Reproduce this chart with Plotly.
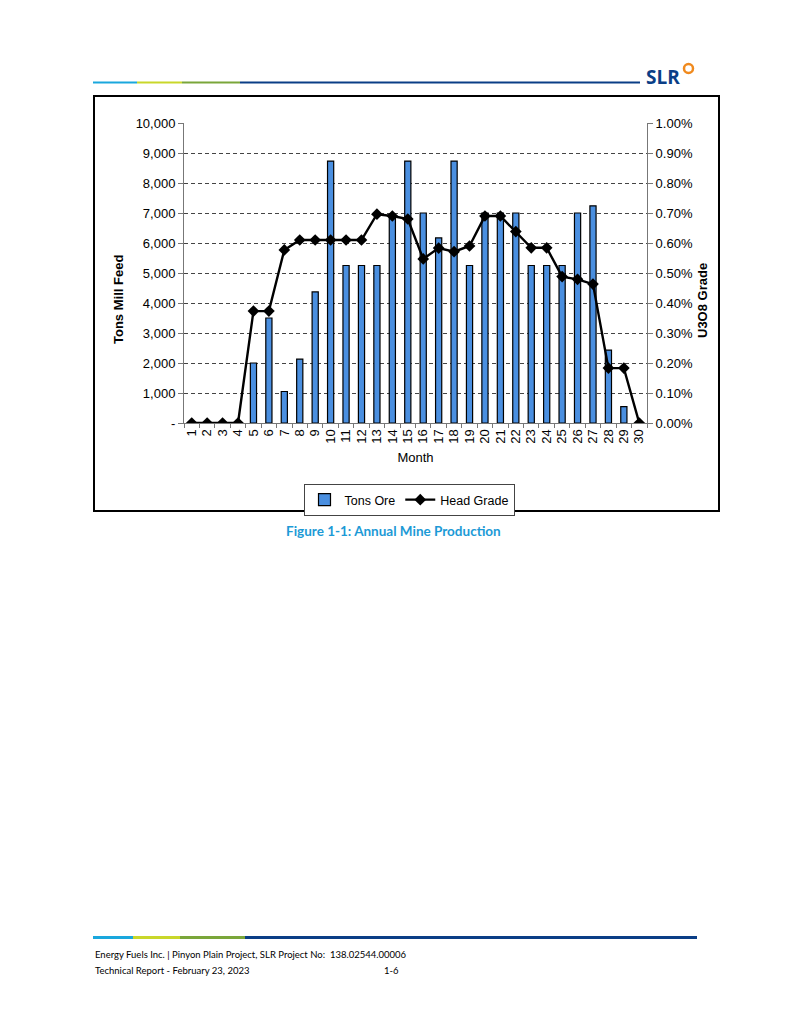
import plotly.graph_objects as go

W, H = 790, 1023

months = [str(m) for m in range(1, 31)]
tons_ore = [0, 0, 0, 0, 2000, 3500, 1050, 2130, 4370, 8730,
            5250, 5250, 5250, 6900, 8730, 7000, 6170, 8730, 5250, 7000,
            7000, 7000, 5250, 5250, 5250, 7000, 7240, 2430, 545, 0]
head_grade = [0.0, 0.0, 0.0, 0.0, 0.00373, 0.00373, 0.00577, 0.0061, 0.0061, 0.0061,
              0.0061, 0.0061, 0.00696, 0.0069, 0.0068, 0.00547, 0.00583, 0.00571, 0.0059, 0.0069,
              0.0069, 0.00638, 0.00584, 0.00584, 0.00488, 0.00479, 0.00463, 0.00183, 0.00183, 0.0]

left_ticks = [0, 1000, 2000, 3000, 4000, 5000, 6000, 7000, 8000, 9000, 10000]
left_labels = ["-", "1,000", "2,000", "3,000", "4,000", "5,000", "6,000", "7,000", "8,000", "9,000", "10,000"]
right_ticks = [0.0, 0.001, 0.002, 0.003, 0.004, 0.005, 0.006, 0.007, 0.008, 0.009, 0.010]
right_labels = ["0.00%", "0.10%", "0.20%", "0.30%", "0.40%", "0.50%", "0.60%", "0.70%", "0.80%", "0.90%", "1.00%"]


def px(x):
    return x / W


def py(y):
    return 1 - y / H


fig = go.Figure()
fig.add_trace(go.Bar(
    x=months, y=tons_ore, name="Tons Ore",
    marker=dict(color="#4a8fe0", line=dict(color="#000000", width=1.2)),
    yaxis="y",
))
fig.add_trace(go.Scatter(
    x=months, y=head_grade, name="Head Grade", mode="lines+markers",
    line=dict(color="#000000", width=2.4),
    marker=dict(symbol="diamond", size=9, color="#000000"),
    yaxis="y2",
))

axis_font = dict(family="Liberation Sans, Arial", size=13, color="#000000")
title_font = dict(family="Liberation Sans, Arial", size=13, color="#000000")

fig.update_layout(
    width=W, height=H,
    margin=dict(l=0, r=0, t=0, b=0, autoexpand=False),
    paper_bgcolor="white", plot_bgcolor="white",
    bargap=0.6,
    showlegend=True,
    legend=dict(
        orientation="h", x=px(409), xanchor="center", y=py(484), yanchor="top",
        bordercolor="#444444", borderwidth=1, bgcolor="white",
        font=dict(family="Liberation Sans, Arial", size=12.5, color="#000000"),
        itemwidth=30, tracegroupgap=0,
    ),
    xaxis=dict(
        domain=[px(184), px(647)],
        type="category",
        range=[-0.5, len(months) - 0.5],
        tickmode="array", tickvals=months, ticktext=months,
        tickangle=-90,
        tickfont=axis_font,
        ticks="outside", ticklen=4, tickcolor="#777777",
        tickson="boundaries",
        showline=True, linecolor="#777777", linewidth=1,
        showgrid=False,
        title=dict(text="Month", font=title_font, standoff=10),
        anchor="y",
    ),
    yaxis=dict(
        domain=[py(423), py(123)],
        range=[0, 10000],
        tickvals=left_ticks, ticktext=left_labels,
        tickfont=axis_font,
        ticks="outside", ticklen=5, tickcolor="#777777",
        showline=True, linecolor="#777777", linewidth=1,
        showgrid=True, gridcolor="#444444", griddash="4px,3px", gridwidth=1,
        zeroline=False,
    ),
    yaxis2=dict(
        overlaying="y", side="right",
        range=[0, 0.01],
        tickvals=right_ticks, ticktext=right_labels,
        tickfont=axis_font,
        ticks="outside", ticklen=5, tickcolor="#777777",
        showline=True, linecolor="#777777", linewidth=1,
        showgrid=False, zeroline=False,
        anchor="x",
    ),
)

shapes = []
# header line segments
for x0, x1, c in [(93, 137, "#1aa7dd"), (137, 182, "#c9d72a"), (182, 240, "#7aa63a"), (240, 640, "#0a3e86")]:
    shapes.append(dict(type="line", xref="paper", yref="paper", x0=px(x0), x1=px(x1), y0=py(82.5), y1=py(82.5),
                       line=dict(color=c, width=2)))
# footer line segments
for x0, x1, c in [(93, 133, "#1aa7dd"), (133, 180, "#c9d72a"), (180, 245, "#7aa63a"), (245, 697, "#0a3e86")]:
    shapes.append(dict(type="line", xref="paper", yref="paper", x0=px(x0), x1=px(x1), y0=py(937.5), y1=py(937.5),
                       line=dict(color=c, width=3)))
# chart border
shapes.append(dict(type="rect", xref="paper", yref="paper", x0=px(94), x1=px(719), y0=py(511), y1=py(96),
                   line=dict(color="#000000", width=2), fillcolor="rgba(0,0,0,0)", layer="below"))
# logo ring
shapes.append(dict(type="circle", xref="paper", yref="paper", x0=px(684), x1=px(693), y0=py(73), y1=py(64),
                   line=dict(color="#f08a1e", width=2.5), fillcolor="rgba(0,0,0,0)"))
fig.update_layout(shapes=shapes)

annotations = [
    dict(text="<b>Tons Mill Feed</b>", x=px(119), y=py(300), xanchor="center", yanchor="middle",
         xref="paper", yref="paper", showarrow=False, textangle=-90, font=title_font),
    dict(text="<b>U3O8 Grade</b>", x=px(703), y=py(301), xanchor="center", yanchor="middle",
         xref="paper", yref="paper", showarrow=False, textangle=-90, font=title_font),
    dict(text="<b>SLR</b>", x=px(644), y=py(77), xanchor="left", yanchor="middle", xref="paper", yref="paper",
         showarrow=False, font=dict(family="Open Sans, Liberation Sans", size=19, color="#0a3e86")),
    dict(text="<b>Figure 1-1: Annual Mine Production</b>", x=px(393), y=py(531), xanchor="center", yanchor="middle",
         xref="paper", yref="paper", showarrow=False,
         font=dict(family="Lato, Open Sans", size=13.5, color="#1c9ad6")),
    dict(text="Energy Fuels Inc. | Pinyon Plain Project, SLR Project No:  138.02544.00006", x=px(93), y=py(954),
         xanchor="left", yanchor="middle", xref="paper", yref="paper", showarrow=False,
         font=dict(family="Lato, Open Sans", size=9.5, color="#000000")),
    dict(text="Technical Report - February 23, 2023", x=px(93), y=py(970),
         xanchor="left", yanchor="middle", xref="paper", yref="paper", showarrow=False,
         font=dict(family="Lato, Open Sans", size=9.5, color="#000000")),
    dict(text="1-6", x=px(391), y=py(970),
         xanchor="center", yanchor="middle", xref="paper", yref="paper", showarrow=False,
         font=dict(family="Lato, Open Sans", size=9.5, color="#000000")),
]
fig.update_layout(annotations=annotations)

fig.write_html("out.html", config={"displayModeBar": False},
               post_script="document.body.style.margin='0px';")
